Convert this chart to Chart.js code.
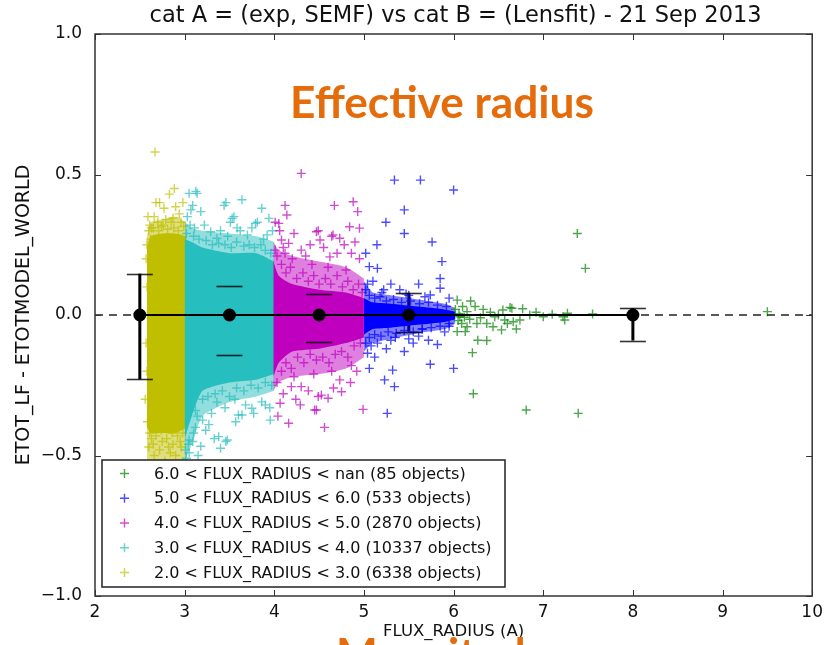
<!DOCTYPE html>
<html>
<head>
<meta charset="utf-8">
<script src="https://cdn.jsdelivr.net/npm/chart.js@4.4.0/dist/chart.umd.min.js"></script>
<style>
  html, body { margin: 0; padding: 0; background: #fff; }
</style>
</head>
<body>
<canvas id="grafico" width="829" height="645"></canvas>
<script>
// Ejes
const xLimits = [2, 10];
const yLimits = [-1, 1];
const refLevel = 0;

// Medias por bin con barras de error
const binCentres = [2.5, 3.5, 4.5, 5.5, 8.0];
const binMeans = [0.0, 0.0, 0.0, 0.0, 0.0];
const errUp = [0.147, 0.103, 0.074, 0.079, 0.024];
const errDown = [0.229, 0.141, 0.095, 0.059, 0.091];

// Zonas densas (nube casi solida): x, borde superior/inferior del nucleo y del halo
const yellowBandX = [2.58, 2.62, 2.75, 2.90, 3.02];
const yellowCoreHi = [0.24, 0.28, 0.29, 0.29, 0.28];
const yellowCoreLo = [-0.40, -0.42, -0.42, -0.42, -0.40];
const yellowHaloHi = [0.28, 0.33, 0.34, 0.35, 0.33];
const yellowHaloLo = [-0.56, -0.58, -0.58, -0.58, -0.56];

const cyanBandX = [3.0, 3.08, 3.2, 3.5, 3.8, 4.0];
const cyanCoreHi = [0.27, 0.26, 0.24, 0.22, 0.22, 0.19];
const cyanCoreLo = [-0.44, -0.36, -0.27, -0.24, -0.23, -0.21];
const cyanHaloHi = [0.33, 0.31, 0.30, 0.29, 0.28, 0.26];
const cyanHaloLo = [-0.52, -0.46, -0.36, -0.31, -0.29, -0.27];

const magentaBandX = [3.99, 4.05, 4.2, 4.5, 4.8, 5.0];
const magentaCoreHi = [0.19, 0.14, 0.11, 0.09, 0.08, 0.06];
const magentaCoreLo = [-0.22, -0.17, -0.13, -0.12, -0.10, -0.08];
const magentaHaloHi = [0.26, 0.23, 0.21, 0.19, 0.17, 0.13];
const magentaHaloLo = [-0.27, -0.24, -0.22, -0.21, -0.19, -0.15];

const blueBandX = [5.0, 5.1, 5.3, 5.6, 5.9, 6.02];
const blueCoreHi = [0.06, 0.045, 0.04, 0.03, 0.02, 0.012];
const blueCoreLo = [-0.07, -0.05, -0.045, -0.035, -0.025, -0.015];
const blueHaloHi = [0.12, 0.08, 0.07, 0.055, 0.04, 0.025];
const blueHaloLo = [-0.13, -0.10, -0.085, -0.065, -0.05, -0.03];

// Puntos sueltos (x, y)
const yellowPts = [
  [2.67,0.58],[2.885,0.45],[2.83,0.43],[2.72,0.40],[2.59,0.35],[2.77,0.38],[2.90,0.385],[2.66,0.35],
  [2.87,0.345],[2.94,0.36],[2.74,0.315],[2.63,0.31],[2.98,0.40],[2.68,0.40],[2.85,0.33],[2.61,0.32],
  [2.79,0.34],[2.96,0.33],[2.70,0.33],[2.57,0.20],[2.57,-0.10],[2.56,-0.30],
  [2.60,0.30],[2.65,0.31],[2.71,0.30],[2.76,0.32],[2.81,0.305],[2.88,0.31],[2.93,0.30],[2.99,0.315],
  [2.62,0.27],[2.58,0.25],[2.58,0.10],[2.585,0.0],[2.58,-0.20],[2.585,-0.38],
  [2.61,-0.42],[2.68,-0.43],[2.74,-0.41],[2.80,-0.44],[2.86,-0.42],[2.92,-0.43],[2.98,-0.42],
  [2.65,-0.46],[2.82,-0.47],[2.95,-0.45],
  [2.60,-0.47],[2.66,-0.50],[2.72,-0.48],[2.78,-0.52],[2.84,-0.49],[2.90,-0.50],[2.96,-0.47],
  [2.63,-0.44],[2.75,-0.45],[2.87,-0.46],[2.70,-0.53],[2.93,-0.53]
];
const cyanPts = [
  [3.05,0.433],[3.14,0.433],[3.07,0.374],[3.18,0.368],[3.11,0.31],[3.46,0.40],[3.64,0.41],[3.86,0.38],
  [3.55,0.35],[3.51,0.33],[3.585,0.31],[3.81,0.33],[3.94,0.344],[3.29,0.296],[3.36,0.273],[3.70,0.285],
  [3.92,0.285],[3.125,0.44],[3.09,0.39],[3.44,0.39],[3.53,0.344],[3.79,0.326],[3.22,0.32],[3.40,0.30],
  [3.62,0.30],[3.75,0.31],[3.98,0.30],[3.03,0.35],
  [3.02,0.29],[3.10,0.28],[3.16,0.27],[3.24,0.265],[3.31,0.25],[3.38,0.255],[3.45,0.25],[3.52,0.24],
  [3.58,0.26],[3.66,0.245],[3.72,0.25],[3.78,0.24],[3.85,0.25],[3.90,0.23],[3.96,0.22],[3.06,0.32],
  [3.48,0.28],[3.88,0.27],
  [3.04,-0.46],[3.10,-0.42],[3.14,-0.36],[3.20,-0.30],[3.26,-0.29],[3.34,-0.28],[3.42,-0.27],[3.50,-0.29],
  [3.58,-0.26],[3.66,-0.27],[3.74,-0.25],[3.82,-0.26],[3.90,-0.24],[3.97,-0.25],[3.12,-0.34],[3.56,-0.30],
  [3.36,-0.31],
  [3.20,-0.374],[3.235,-0.41],[3.38,-0.433],[3.46,-0.45],[3.64,-0.356],[3.75,-0.332],[3.955,-0.374],
  [3.86,-0.309],[3.01,-0.48],[3.05,-0.445],[3.57,-0.38],[3.27,-0.39],[3.475,-0.445],[3.33,-0.44],
  [3.60,-0.356],[3.77,-0.35],[3.90,-0.32],[3.18,-0.467],[3.40,-0.474],[3.09,-0.45],[3.05,-0.49],
  [3.12,-0.40],[3.30,-0.35],[3.45,-0.33],[3.68,-0.32],[3.95,-0.33],[3.15,-0.50],[3.02,-0.51]
];
const magentaPts = [
  [4.30,0.504],[4.12,0.39],[4.14,0.356],[4.01,0.33],[4.67,0.39],[4.88,0.403],[4.93,0.368],[4.84,0.314],
  [4.95,0.309],[4.47,0.296],[4.655,0.285],[4.73,0.273],[4.51,0.267],[4.08,0.267],[4.16,0.255],[4.30,0.231],
  [4.86,0.22],[4.62,0.207],[4.01,0.231],[4.06,0.30],[4.22,0.29],[4.40,0.25],[4.55,0.24],[4.78,0.25],
  [4.95,0.20],[4.35,0.21],[4.90,0.26],[4.12,0.22],[4.70,0.22],[4.05,0.326],[4.49,0.30],[4.64,0.28],
  [4.03,0.21],[4.08,0.18],[4.13,0.15],[4.18,0.17],[4.25,0.13],[4.32,0.15],[4.38,0.12],[4.44,0.14],
  [4.50,0.11],[4.57,0.13],[4.63,0.11],[4.70,0.14],[4.76,0.10],[4.82,0.12],[4.88,0.09],[4.94,0.11],
  [4.98,0.08],[4.20,0.20],[4.42,0.18],[4.60,0.17],[4.80,0.16],[4.10,0.24],
  [4.03,-0.24],[4.08,-0.20],[4.13,-0.17],[4.19,-0.19],[4.26,-0.15],[4.33,-0.17],[4.40,-0.14],[4.47,-0.16],
  [4.54,-0.15],[4.61,-0.17],[4.68,-0.14],[4.75,-0.13],[4.82,-0.15],[4.89,-0.11],[4.96,-0.10],[4.22,-0.22],
  [4.44,-0.21],[4.64,-0.20],[4.86,-0.18],
  [4.16,-0.385],[4.56,-0.40],[4.47,-0.338],[4.99,-0.336],[4.29,-0.32],[4.75,-0.273],[4.19,-0.255],
  [4.30,-0.255],[4.525,-0.285],[4.60,-0.296],[4.065,-0.314],[4.73,-0.231],[4.45,-0.338],[4.10,-0.28],
  [4.38,-0.27],[4.66,-0.26],[4.85,-0.24],[4.92,-0.20],[4.24,-0.30],[4.04,-0.36],[4.49,-0.29]
];
const bluePts = [
  [5.34,0.48],[5.63,0.48],[6.0,0.445],[5.45,0.374],[5.245,0.33],[5.45,0.29],[5.76,0.26],[5.145,0.25],
  [5.02,0.22],[5.87,0.19],[5.06,0.172],[5.15,0.166],[5.85,0.13],[5.61,0.11],[5.74,0.071],[5.85,0.095],
  [5.30,0.11],[5.20,0.08],[5.50,0.07],[5.10,0.12],[5.40,0.09],[5.95,0.06],
  [5.02,0.09],[5.06,0.07],[5.12,0.06],[5.18,0.065],[5.25,0.05],[5.33,0.055],[5.42,0.045],[5.52,0.05],
  [5.62,0.04],[5.72,0.045],[5.82,0.035],[5.92,0.03],[5.04,0.11],[5.22,0.09],[5.47,0.075],[5.68,0.065],
  [5.02,-0.10],[5.06,-0.08],[5.12,-0.07],[5.19,-0.075],[5.27,-0.06],[5.36,-0.065],[5.45,-0.055],[5.55,-0.06],
  [5.65,-0.05],[5.75,-0.045],[5.85,-0.04],[5.95,-0.03],[5.08,-0.11],[5.30,-0.09],[5.50,-0.085],
  [5.26,-0.35],[5.34,-0.255],[5.23,-0.231],[5.32,-0.196],[6.0,-0.19],[5.74,-0.175],[5.06,-0.19],
  [5.45,-0.13],[5.82,-0.105],[5.04,-0.136],[5.15,-0.10],[5.61,-0.075],[5.72,-0.09],[5.25,-0.12],
  [5.55,-0.10],[5.90,-0.06],[5.35,-0.08],[5.12,-0.15],[5.65,-0.05],[5.95,-0.04]
];
const greenPts = [
  [7.38,0.29],[7.47,0.166],[9.50,0.012],[6.22,-0.28],[6.81,-0.338],[7.39,-0.35],[6.21,-0.134],[6.27,-0.09],
  [6.37,-0.091],[6.04,-0.059],[6.13,-0.059],[6.04,0.053],[6.19,0.05],[6.24,0.03],[6.535,-0.053],[6.665,-0.024],
  [6.70,-0.05],[6.74,-0.018],[6.63,0.027],[6.77,0.022],[6.41,0.01],[6.46,-0.006],[6.37,-0.03],[6.30,-0.01],
  [6.92,0.01],[7.00,-0.006],[7.22,-0.006],[7.27,0.006],[7.24,-0.018],[7.55,0.004],[6.07,-0.006],[6.15,0.012],
  [6.09,-0.03],[6.44,-0.042],[6.55,0.018],[6.57,-0.018],[6.65,0.024],[6.15,-0.042],[6.26,-0.03],[6.02,0.02],
  [6.05,-0.02],[6.10,0.03],[6.18,-0.015],[6.33,0.02],[6.50,0.0],[6.85,0.0],[7.10,0.003],[6.60,-0.03],
  [6.06,0.005],[6.12,-0.008]
];

const legendLabels = [
  '6.0 < FLUX_RADIUS < nan (85 objects)',
  '5.0 < FLUX_RADIUS < 6.0 (533 objects)',
  '4.0 < FLUX_RADIUS < 5.0 (2870 objects)',
  '3.0 < FLUX_RADIUS < 4.0 (10337 objects)',
  '2.0 < FLUX_RADIUS < 3.0 (6338 objects)'
];

// Colores matplotlib (g, b, m, c, y)
const rgbGreen = '0,128,0';
const rgbBlue = '0,0,255';
const rgbMagenta = '191,0,191';
const rgbCyan = '38,190,190';
const rgbYellow = '191,191,0';
const legendColors = [rgbGreen, rgbBlue, rgbMagenta, rgbCyan, rgbYellow];

const FONT = 'DejaVu Sans';
const HALO = 0.5;

const toXY = pts => pts.map(([x, y]) => ({ x, y }));

function band(xs, hi, lo, rgb, alpha, order) {
    const common = { type: 'line', borderWidth: 0, pointRadius: 0, tension: 0.2, order };
    return [
        { ...common, data: xs.map((x, i) => ({ x, y: hi[i] })), fill: '+1', backgroundColor: `rgba(${rgb},${alpha})` },
        { ...common, data: xs.map((x, i) => ({ x, y: lo[i] })), fill: false }
    ];
}

function crosses(pts, rgb, order) {
    return {
        type: 'scatter',
        data: toXY(pts),
        pointStyle: 'cross',
        pointRadius: 4.5,
        pointBorderWidth: 1.4,
        borderColor: `rgba(${rgb},0.7)`,
        backgroundColor: `rgba(${rgb},0.7)`,
        order
    };
}

const datasets = [
    ...band(yellowBandX, yellowHaloHi, yellowHaloLo, rgbYellow, HALO, 20),
    ...band(yellowBandX, yellowCoreHi, yellowCoreLo, rgbYellow, 1, 19),
    crosses(yellowPts, rgbYellow, 18),
    ...band(cyanBandX, cyanHaloHi, cyanHaloLo, rgbCyan, HALO, 17),
    ...band(cyanBandX, cyanCoreHi, cyanCoreLo, rgbCyan, 1, 16),
    crosses(cyanPts, rgbCyan, 15),
    ...band(magentaBandX, magentaHaloHi, magentaHaloLo, rgbMagenta, HALO, 14),
    ...band(magentaBandX, magentaCoreHi, magentaCoreLo, rgbMagenta, 1, 13),
    crosses(magentaPts, rgbMagenta, 12),
    ...band(blueBandX, blueHaloHi, blueHaloLo, rgbBlue, HALO, 11),
    ...band(blueBandX, blueCoreHi, blueCoreLo, rgbBlue, 1, 10),
    crosses(bluePts, rgbBlue, 9),
    crosses(greenPts, rgbGreen, 8),
    {
        // linea discontinua de referencia
        type: 'line',
        data: xLimits.map(x => ({ x, y: refLevel })),
        borderColor: '#222',
        borderWidth: 1.6,
        borderDash: [8, 6],
        pointRadius: 0,
        fill: false,
        order: 2
    },
    {
        // medias por bin
        type: 'line',
        data: binCentres.map((x, i) => ({ x, y: binMeans[i] })),
        borderColor: '#000',
        borderWidth: 2,
        pointRadius: 5.5,
        pointBackgroundColor: '#000',
        pointBorderColor: '#000',
        fill: false,
        order: 1
    }
];

const fmtY = v => (v < 0 ? '\u2212' : '') + Math.abs(v).toFixed(1);

// Barras de error: tramo vertical debajo de la nube, topes encima
const errorBars = {
    id: 'errorBars',
    beforeDatasetsDraw(chart) {
        const { ctx, scales: { x, y } } = chart;
        ctx.save();
        ctx.strokeStyle = '#000';
        ctx.lineWidth = 3;
        binCentres.forEach((c, i) => {
            const px = x.getPixelForValue(c);
            ctx.beginPath();
            ctx.moveTo(px, y.getPixelForValue(binMeans[i] + errUp[i]));
            ctx.lineTo(px, y.getPixelForValue(binMeans[i] - errDown[i]));
            ctx.stroke();
        });
        ctx.restore();
    },
    afterDatasetsDraw(chart) {
        const { ctx, scales: { x, y } } = chart;
        ctx.save();
        ctx.strokeStyle = 'rgba(0,0,0,0.8)';
        ctx.lineWidth = 1.6;
        binCentres.forEach((c, i) => {
            const px = x.getPixelForValue(c);
            [binMeans[i] + errUp[i], binMeans[i] - errDown[i]].forEach(v => {
                const py = Math.round(y.getPixelForValue(v)) + 0.5;
                ctx.beginPath();
                ctx.moveTo(px - 13, py);
                ctx.lineTo(px + 13, py);
                ctx.stroke();
            });
        });
        ctx.restore();
    }
};

// Marco, ticks hacia dentro, leyenda y textos
const decor = {
    id: 'decor',
    afterDraw(chart) {
        const { ctx, chartArea: a, scales: { x, y } } = chart;
        ctx.save();

        // leyenda
        const lx = a.left + 7, ly = a.bottom - 136, lw = 403, lh = 127;
        ctx.fillStyle = '#fff';
        ctx.fillRect(lx, ly, lw, lh);
        ctx.strokeStyle = '#222';
        ctx.lineWidth = 1.5;
        ctx.strokeRect(lx, ly, lw, lh);
        ctx.font = `16px "${FONT}"`;
        ctx.textBaseline = 'middle';
        ctx.textAlign = 'left';
        legendLabels.forEach((t, i) => {
            const ry = ly + 13.5 + i * 24.75;
            ctx.strokeStyle = `rgba(${legendColors[i]},0.7)`;
            ctx.lineWidth = 1.4;
            ctx.beginPath();
            ctx.moveTo(lx + 18, ry); ctx.lineTo(lx + 27, ry);
            ctx.moveTo(lx + 22.5, ry - 4.5); ctx.lineTo(lx + 22.5, ry + 4.5);
            ctx.stroke();
            ctx.fillStyle = '#111';
            ctx.fillText(t, lx + 52, ry + 1);
        });

        // marco
        ctx.strokeStyle = '#333';
        ctx.lineWidth = 1.5;
        ctx.strokeRect(a.left, a.top, a.right - a.left, a.bottom - a.top);

        // ticks
        ctx.lineWidth = 1;
        ctx.beginPath();
        x.ticks.forEach(t => {
            const px = Math.round(x.getPixelForValue(t.value)) + 0.5;
            ctx.moveTo(px, a.bottom); ctx.lineTo(px, a.bottom - 6);
            ctx.moveTo(px, a.top); ctx.lineTo(px, a.top + 6);
        });
        y.ticks.forEach(t => {
            const py = Math.round(y.getPixelForValue(t.value)) + 0.5;
            ctx.moveTo(a.left, py); ctx.lineTo(a.left + 6, py);
            ctx.moveTo(a.right, py); ctx.lineTo(a.right - 6, py);
        });
        ctx.stroke();

        // titulos
        ctx.fillStyle = '#111';
        ctx.textAlign = 'center';
        ctx.textBaseline = 'middle';
        ctx.font = `22.5px "${FONT}"`;
        ctx.fillText('cat A = (exp, SEMF) vs cat B = (Lensfit) - 21 Sep 2013', (a.left + a.right) / 2 + 2, 16);
        ctx.font = `16.5px "${FONT}"`;
        ctx.fillText('FLUX_RADIUS (A)', (a.left + a.right) / 2, 632);
        ctx.save();
        ctx.translate(24, (a.top + a.bottom) / 2);
        ctx.rotate(-Math.PI / 2);
        ctx.font = `19px "${FONT}"`;
        ctx.fillText('ETOT_LF - ETOTMODEL_WORLD', 0, 0);
        ctx.restore();

        // textos naranjas de la diapositiva
        ctx.fillStyle = '#E46C0A';
        ctx.font = 'bold 45px Lato';
        const w = ctx.measureText('Effective radius').width;
        const size = 45 * 304 / w;
        ctx.font = `bold ${size}px Lato`;
        ctx.textBaseline = 'alphabetic';
        ctx.fillText('Effective radius', 442, 118);
        ctx.textAlign = 'left';
        ctx.fillText('Magnitude', 336, 670);

        ctx.restore();
    }
};

new Chart(document.getElementById('grafico'), {
    type: 'scatter',
    data: { datasets },
    options: {
        responsive: false,
        animation: false,
        events: [],
        devicePixelRatio: 1,
        layout: { padding: { top: 34, right: 11, left: 0, bottom: 0 } },
        plugins: { legend: { display: false }, tooltip: { enabled: false } },
        scales: {
            x: {
                type: 'linear',
                min: xLimits[0],
                max: xLimits[1],
                afterFit: s => { s.height = 49; },
                grid: { display: false, drawTicks: false },
                border: { display: false },
                ticks: { stepSize: 1, padding: 6, color: '#111', font: { family: FONT, size: 17 }, maxRotation: 0, autoSkip: false }
            },
            y: {
                type: 'linear',
                min: yLimits[0],
                max: yLimits[1],
                afterFit: s => { s.width = 95; },
                grid: { display: false, drawTicks: false },
                border: { display: false },
                ticks: { stepSize: 0.5, padding: 13, color: '#111', font: { family: FONT, size: 17 }, callback: fmtY }
            }
        }
    },
    plugins: [errorBars, decor]
});
</script>
</body>
</html>
